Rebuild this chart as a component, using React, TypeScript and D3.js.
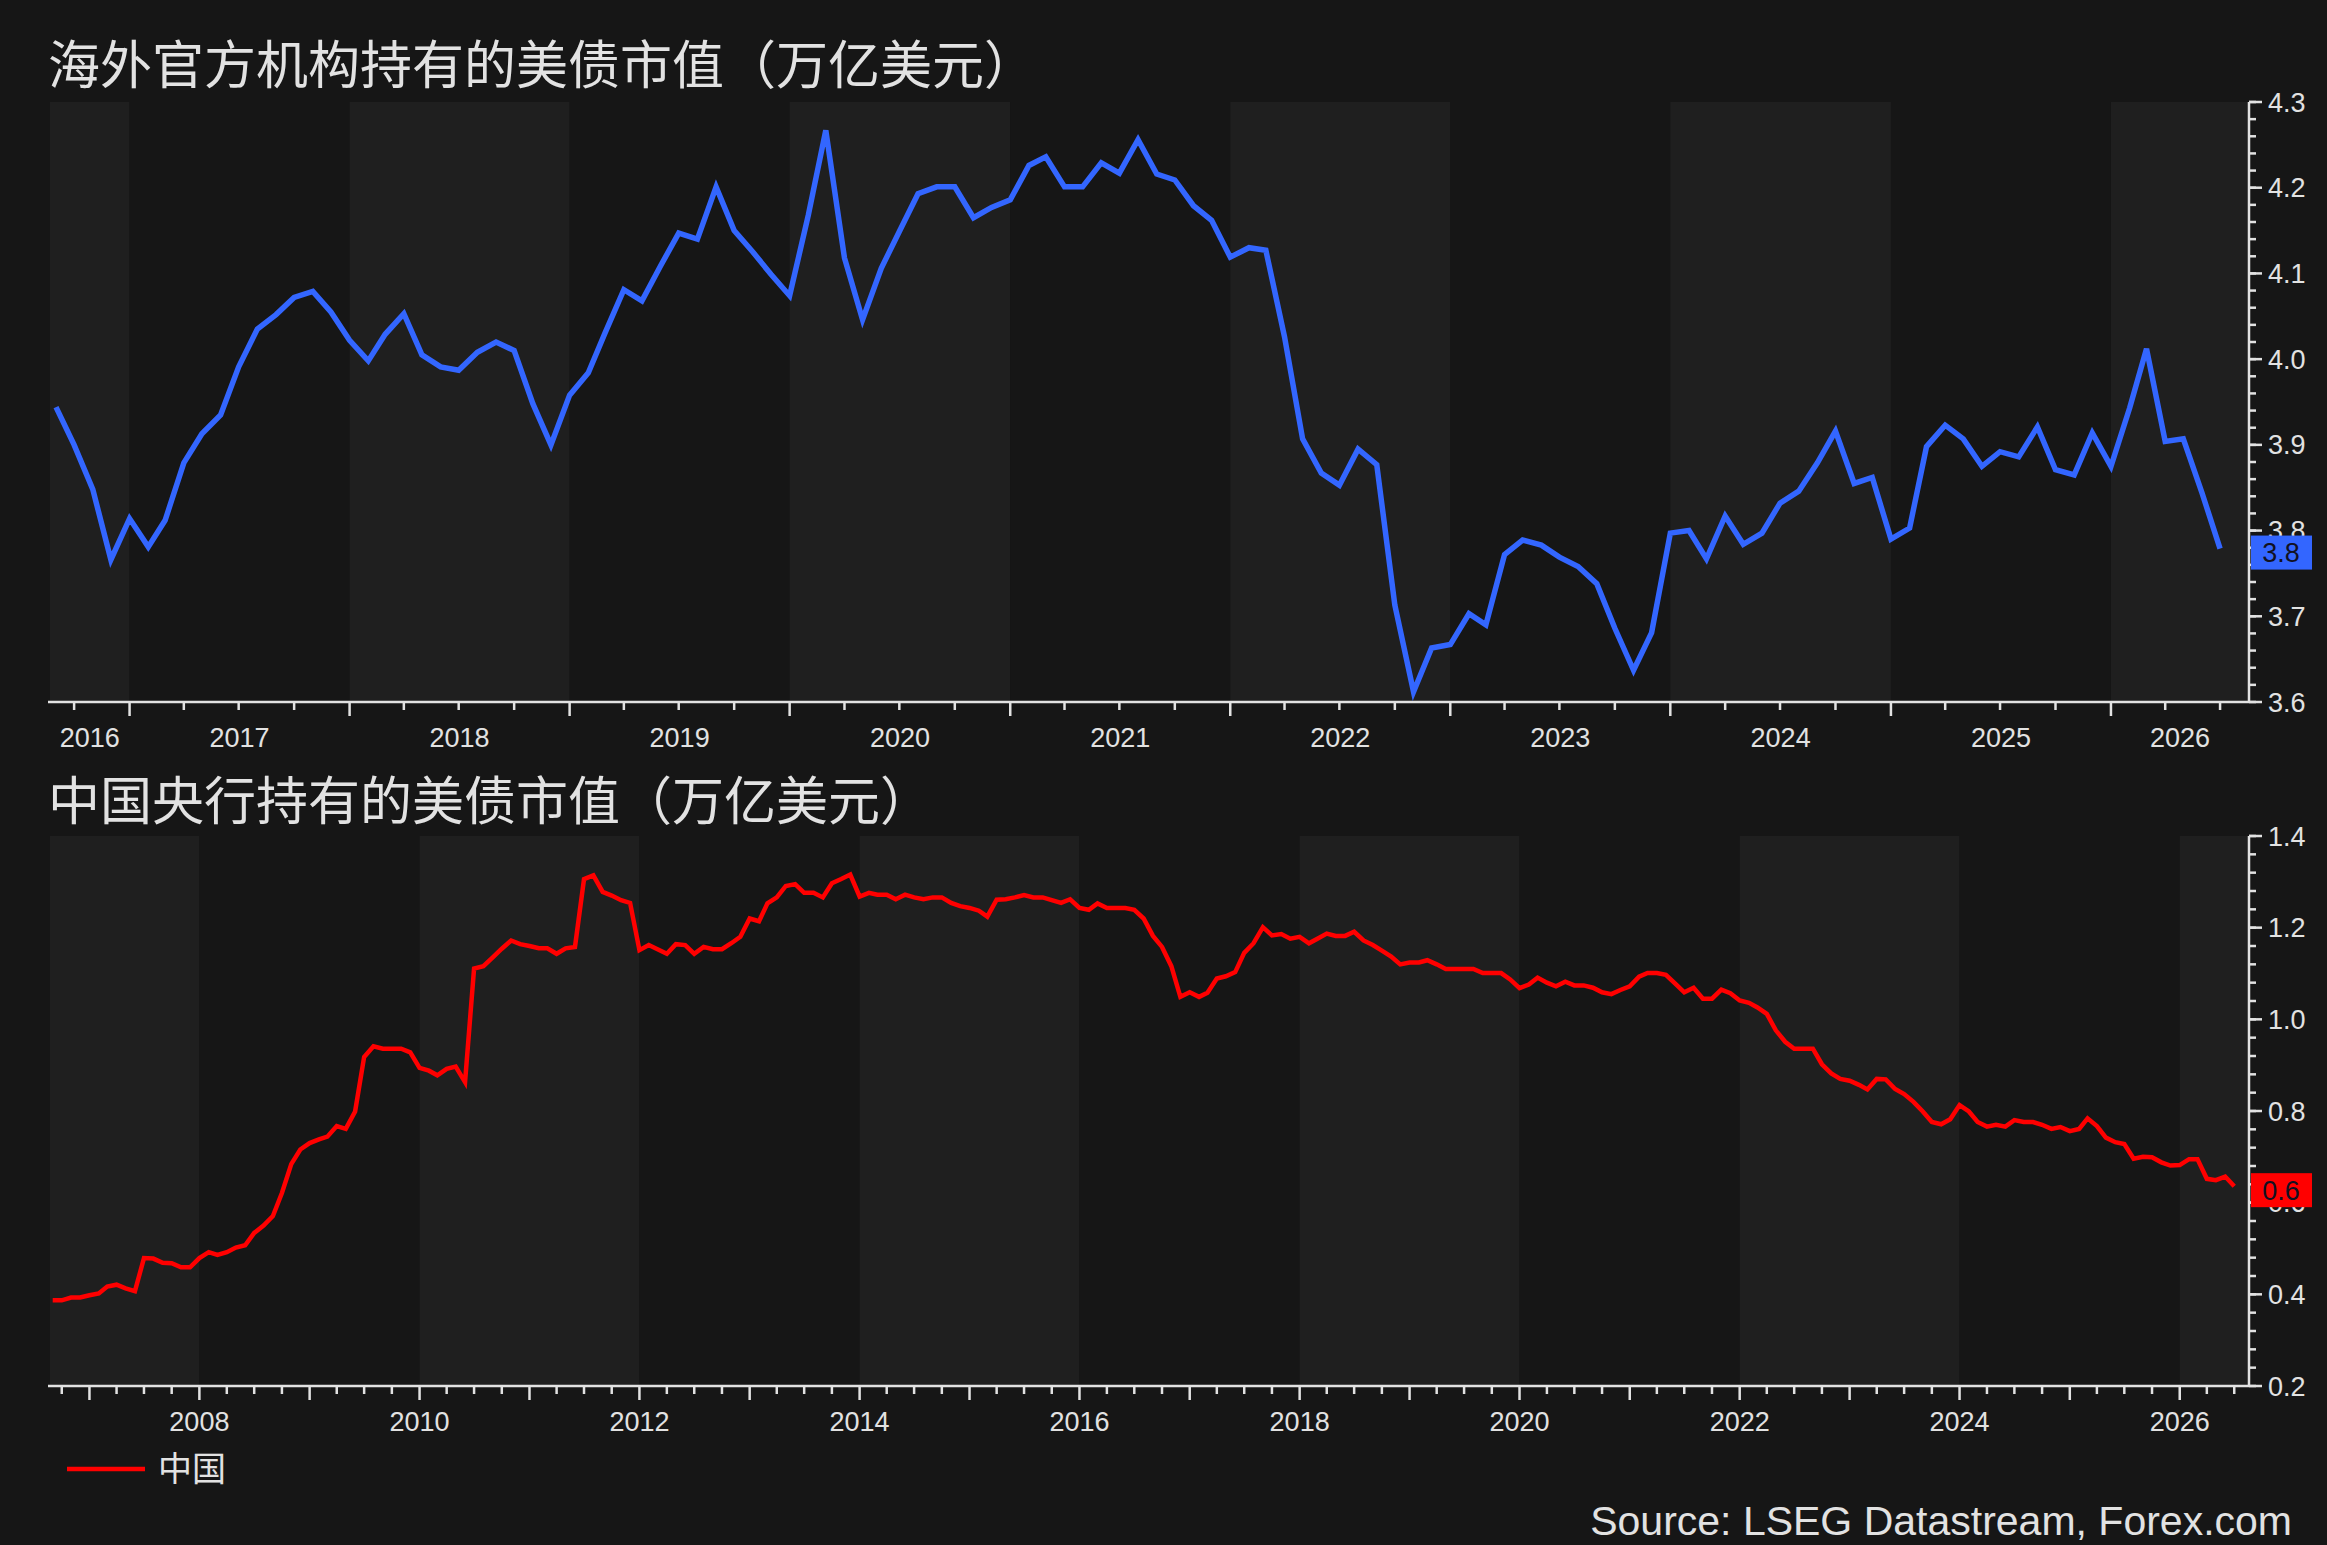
import * as React from 'react';
import { useEffect, useRef } from 'react';
import * as d3 from 'd3';

// 海外官方机构持有的美债市值, monthly from 2016-09
const officialStart = new Date(2016, 8, 1);
const officialValues = [
  3.944, 3.900, 3.848, 3.766,
  3.814, 3.781, 3.812, 3.879, 3.913, 3.935, 3.991, 4.035, 4.052, 4.072, 4.079, 4.055,
  4.022, 3.998, 4.029, 4.053, 4.005, 3.991, 3.987, 4.008, 4.020, 4.010, 3.948, 3.900,
  3.958, 3.984, 4.031, 4.081, 4.068, 4.109, 4.147, 4.140, 4.201, 4.150, 4.125, 4.099,
  4.074, 4.168, 4.267, 4.118, 4.046, 4.106, 4.149, 4.193, 4.201, 4.201, 4.165, 4.177,
  4.186, 4.226, 4.236, 4.201, 4.201, 4.229, 4.217, 4.256, 4.216, 4.209, 4.179, 4.162,
  4.119, 4.130, 4.127, 4.026, 3.907, 3.867, 3.853, 3.895, 3.877, 3.713, 3.612, 3.663,
  3.667, 3.703, 3.690, 3.772, 3.789, 3.783, 3.769, 3.758, 3.738, 3.686, 3.637, 3.681,
  3.797, 3.800, 3.767, 3.817, 3.784, 3.797, 3.832, 3.846, 3.879, 3.916, 3.855, 3.862,
  3.790, 3.803, 3.898, 3.923, 3.907, 3.875, 3.892, 3.886, 3.921, 3.871, 3.865, 3.914,
  3.875, 3.943, 4.012, 3.904, 3.907, 3.844, 3.779,
];

// 中国央行持有的美债市值, monthly from 2006-09
const chinaStart = new Date(2006, 8, 1);
const chinaValues = [
  0.387, 0.387, 0.393, 0.393,
  0.398, 0.402, 0.417, 0.421, 0.413, 0.407, 0.479, 0.478, 0.469, 0.468, 0.459, 0.459,
  0.479, 0.492, 0.486, 0.492, 0.502, 0.507, 0.534, 0.550, 0.571, 0.621, 0.684, 0.716,
  0.730, 0.738, 0.744, 0.767, 0.761, 0.799, 0.918, 0.941, 0.936, 0.936, 0.936, 0.928,
  0.894, 0.888, 0.878, 0.892, 0.897, 0.863, 1.111, 1.116, 1.135, 1.154, 1.172, 1.164,
  1.160, 1.155, 1.155, 1.143, 1.155, 1.158, 1.306, 1.314, 1.278, 1.270, 1.260, 1.254,
  1.151, 1.162, 1.153, 1.143, 1.164, 1.162, 1.143, 1.158, 1.153, 1.153, 1.166, 1.180,
  1.220, 1.214, 1.253, 1.266, 1.291, 1.295, 1.276, 1.276, 1.266, 1.297, 1.306, 1.316,
  1.268, 1.276, 1.272, 1.272, 1.262, 1.272, 1.266, 1.262, 1.266, 1.266, 1.254, 1.247,
  1.243, 1.237, 1.224, 1.261, 1.262, 1.266, 1.271, 1.266, 1.266, 1.260, 1.254, 1.262,
  1.243, 1.239, 1.253, 1.243, 1.243, 1.243, 1.239, 1.220, 1.182, 1.158, 1.116, 1.049,
  1.059, 1.049, 1.058, 1.089, 1.094, 1.103, 1.145, 1.166, 1.201, 1.183, 1.186, 1.176,
  1.180, 1.166, 1.176, 1.187, 1.182, 1.182, 1.191, 1.172, 1.162, 1.150, 1.137, 1.120,
  1.124, 1.124, 1.129, 1.120, 1.110, 1.110, 1.110, 1.110, 1.101, 1.101, 1.101, 1.087,
  1.068, 1.076, 1.091, 1.080, 1.072, 1.082, 1.074, 1.074, 1.069, 1.059, 1.055, 1.064,
  1.072, 1.093, 1.101, 1.101, 1.097, 1.078, 1.059, 1.069, 1.045, 1.045, 1.065, 1.057,
  1.041, 1.036, 1.026, 1.012, 0.976, 0.951, 0.936, 0.936, 0.936, 0.902, 0.882, 0.870,
  0.866, 0.857, 0.847, 0.870, 0.869, 0.848, 0.837, 0.820, 0.799, 0.776, 0.771, 0.782,
  0.813, 0.799, 0.776, 0.766, 0.770, 0.766, 0.780, 0.776, 0.776, 0.770, 0.761, 0.765,
  0.756, 0.761, 0.784, 0.767, 0.742, 0.732, 0.728, 0.696, 0.700, 0.699, 0.688, 0.681,
  0.682, 0.695, 0.695, 0.652, 0.649, 0.657, 0.636,
];

const titles = ['海外官方机构持有的美债市值（万亿美元）', '中国央行持有的美债市值（万亿美元）'];
const legendLabel = '中国';
const sourceText = 'Source: LSEG Datastream, Forex.com';

const W = 2327, H = 1545;
const BG = '#161616', BAND = '#1f1f1f', FG = '#e2e2e2';
const NUM_FONT = '"Liberation Sans", Arial, sans-serif';
const CJK_FONT = '"Noto Sans CJK SC", sans-serif';

type Panel = {
  top: number; bottom: number;
  domain: [Date, Date];
  yDomain: [number, number];
  yMajor: number; yMinor: number;
  bandYears: number; lightParity: number; centerLabels: boolean;
  start: Date; values: number[];
  color: string; width: number; badge: string;
};

function drawPanel(svg: d3.Selection<SVGSVGElement, unknown, null, undefined>, p: Panel) {
  const left = 50, right = 2249;
  const x = d3.scaleTime().domain(p.domain).range([left, right]);
  const y = d3.scaleLinear().domain(p.yDomain).range([p.bottom, p.top]);
  const g = svg.append('g');

  // alternating year bands
  const y0 = p.domain[0].getFullYear(), y1 = p.domain[1].getFullYear();
  for (let yr = y0 - (y0 % p.bandYears); yr <= y1; yr += p.bandYears) {
    const a = Math.max(left, x(new Date(yr, 0, 1)));
    const b = Math.min(right, x(new Date(yr + p.bandYears, 0, 1)));
    if (b <= a) continue;
    g.append('rect').attr('x', a).attr('y', p.top).attr('width', b - a).attr('height', p.bottom - p.top)
      .attr('fill', (yr / p.bandYears) % 2 === p.lightParity ? BAND : BG);
  }

  // bottom axis
  g.append('line').attr('x1', left - 2).attr('x2', right).attr('y1', p.bottom).attr('y2', p.bottom)
    .attr('stroke', FG).attr('stroke-width', 2.5);
  const quarters = d3.timeMonth.every(3)!.range(p.domain[0], p.domain[1]);
  g.selectAll(null).data(quarters).join('line')
    .attr('x1', d => x(d)).attr('x2', d => x(d))
    .attr('y1', p.bottom).attr('y2', d => p.bottom + (d.getMonth() === 0 ? 14 : 8))
    .attr('stroke', FG).attr('stroke-width', 2.5);

  const years = d3.range(y0, y1 + 1);
  if (p.centerLabels) {
    g.selectAll(null).data(years).join('text')
      .attr('x', yr => (Math.max(left, x(new Date(yr, 0, 1))) + Math.min(right, x(new Date(yr + 1, 0, 1)))) / 2)
      .attr('y', p.bottom + 45)
      .attr('text-anchor', 'middle').attr('fill', FG)
      .style('font', `27px ${NUM_FONT}`)
      .text(yr => String(yr));
  } else {
    g.selectAll(null).data(years.filter(yr => yr % 2 === 0 && x(new Date(yr, 0, 1)) > left)).join('text')
      .attr('x', yr => x(new Date(yr, 0, 1))).attr('y', p.bottom + 45)
      .attr('text-anchor', 'middle').attr('fill', FG)
      .style('font', `27px ${NUM_FONT}`)
      .text(yr => String(yr));
  }

  // right axis
  g.append('line').attr('x1', right).attr('x2', right).attr('y1', p.top).attr('y2', p.bottom + 1)
    .attr('stroke', FG).attr('stroke-width', 2.5);
  const nMinor = Math.round((p.yDomain[1] - p.yDomain[0]) / p.yMinor);
  const minor = d3.range(nMinor + 1).map(i => p.yDomain[0] + i * p.yMinor);
  g.selectAll(null).data(minor).join('line')
    .attr('x1', right).attr('x2', right + 7).attr('y1', d => y(d)).attr('y2', d => y(d))
    .attr('stroke', FG).attr('stroke-width', 2.5);
  const nMajor = Math.round((p.yDomain[1] - p.yDomain[0]) / p.yMajor);
  const major = d3.range(nMajor + 1).map(i => p.yDomain[0] + i * p.yMajor);
  g.selectAll(null).data(major).join('line')
    .attr('x1', right).attr('x2', right + 13).attr('y1', d => y(d)).attr('y2', d => y(d))
    .attr('stroke', FG).attr('stroke-width', 2.5);
  g.selectAll(null).data(major).join('text')
    .attr('x', right + 19).attr('y', d => y(d) + 9.5)
    .attr('fill', FG).style('font', `27px ${NUM_FONT}`)
    .text(d => d3.format('.1f')(d));

  // series
  const dates = p.values.map((_, i) => d3.timeMonth.offset(p.start, i));
  const line = d3.line<number>().x((_, i) => x(dates[i])).y(d => y(d));
  g.append('path').attr('d', line(p.values)!)
    .attr('fill', 'none').attr('stroke', p.color).attr('stroke-width', p.width)
    .attr('stroke-linejoin', 'miter');

  // last value badge, drawn over the tick labels as in the source
  const last = p.values[p.values.length - 1];
  const by = y(last) + 4;
  g.append('rect').attr('x', right + 2).attr('y', by - 17).attr('width', 61).attr('height', 34)
    .attr('fill', p.color);
  g.append('text').attr('x', right + 32).attr('y', by + 9.5).attr('text-anchor', 'middle')
    .attr('fill', '#111122').style('font', `27px ${NUM_FONT}`).text(p.badge);
}

export default function App() {
  const ref = useRef<SVGSVGElement | null>(null);

  useEffect(() => {
    if (!ref.current) return;
    const svg = d3.select(ref.current);
    svg.selectAll('*').remove();
    svg.append('rect').attr('width', W).attr('height', H).attr('fill', BG);

    drawPanel(svg, {
      top: 102, bottom: 702,
      domain: [new Date(2016, 7, 22), new Date(2026, 7, 18)],
      yDomain: [3.6, 4.3], yMajor: 0.1, yMinor: 0.02,
      bandYears: 1, lightParity: 0, centerLabels: true,
      start: officialStart, values: officialValues,
      color: '#3366ff', width: 5.5, badge: '3.8',
    });
    drawPanel(svg, {
      top: 836, bottom: 1386,
      domain: [new Date(2006, 7, 23), new Date(2026, 7, 19)],
      yDomain: [0.2, 1.4], yMajor: 0.2, yMinor: 0.04,
      bandYears: 2, lightParity: 1, centerLabels: false,
      start: chinaStart, values: chinaValues,
      color: '#ff0000', width: 4.5, badge: '0.6',
    });

    svg.selectAll(null).data(titles).join('text')
      .attr('x', 48).attr('y', (_, i) => (i === 0 ? 84 : 820))
      .attr('fill', FG).style('font', `52px ${CJK_FONT}`)
      .text(d => d);

    svg.append('line').attr('x1', 67).attr('x2', 145).attr('y1', 1469).attr('y2', 1469)
      .attr('stroke', '#ff0000').attr('stroke-width', 4.5);
    svg.append('text').attr('x', 158).attr('y', 1481)
      .attr('fill', FG).style('font', `34px ${CJK_FONT}`).text(legendLabel);

    svg.append('text').attr('x', 2292).attr('y', 1535).attr('text-anchor', 'end')
      .attr('fill', FG).style('font', `41px ${NUM_FONT}`).text(sourceText);
  }, []);

  return (
    <svg ref={ref} width={W} height={H}
      style={{ position: 'absolute', left: 0, top: 0, display: 'block' }} />
  );
}
